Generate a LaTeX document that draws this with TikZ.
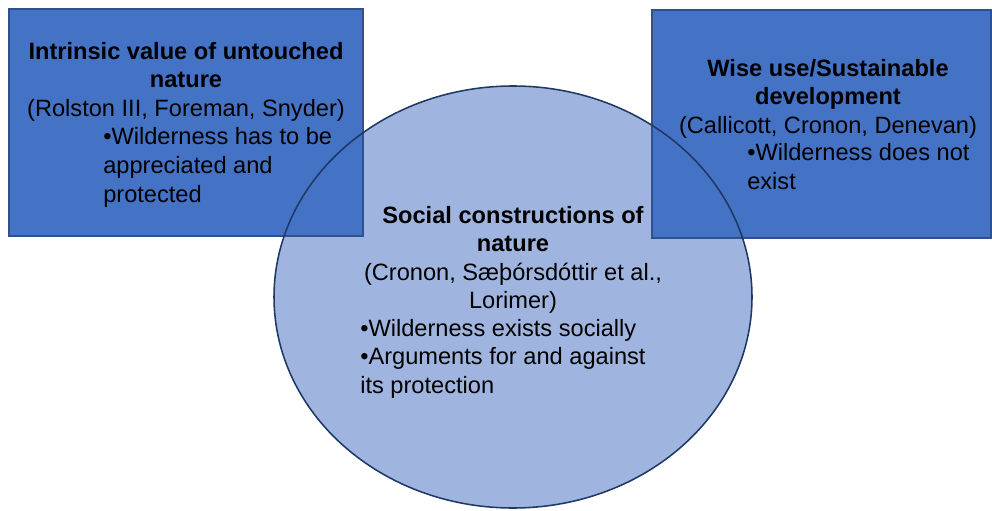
\documentclass[tikz,border=0pt]{standalone}
\usepackage{fontspec}
\setmainfont{Liberation Sans}
\usepackage{xcolor}
\usepackage{tikz}
\usetikzlibrary{shapes,positioning}
\definecolor{boxblue}{HTML}{4472C4}
\definecolor{boxedge}{HTML}{2F528F}
\definecolor{circblue}{HTML}{9FB5DF}
\definecolor{circedge}{HTML}{1F3864}
\tikzstyle{viewbox}  =[rectangle, draw=boxedge, fill=boxblue, line width=0.8pt,
                        inner sep=0pt]
\tikzstyle{viewcirc} =[ellipse, fill=circblue, inner sep=0pt,
                        minimum width=11.95cm, minimum height=10.55cm]
\tikzstyle{heading}  =[align=center, inner sep=0pt, anchor=north,
                        font=\fontsize{16.8}{20.3}\selectfont]
\tikzstyle{bullets}  =[align=left, inner sep=0pt, anchor=north west,
                        font=\fontsize{16.8}{20.3}\selectfont]

\begin{document}
\begin{tikzpicture}

  \useasboundingbox (0,0) rectangle (24.8,12.75);

  % ── shapes ──────────────────────────────────────────────────────────────────
  \node[viewcirc] (social) at (12.825, 5.325) {};
  \node[viewbox, minimum width=8.85cm,  minimum height=5.675cm] (intrinsic) at (4.65,    9.6875) {};
  \node[viewbox, minimum width=8.475cm, minimum height=5.7cm]   (wiseuse)   at (20.5375, 9.65)   {};
  \draw[circedge, line width=1.1pt] (social.center) ellipse [x radius=5.975, y radius=5.275];

  % ── texts ───────────────────────────────────────────────────────────────────
  \node[heading] (intrinsicT) at (4.65, 11.7)
    {{\bfseries Intrinsic value of untouched}\\{\bfseries nature}\\(Rolston III, Foreman, Snyder)};
  \node[bullets] (intrinsicB) at (2.575, 9.56)
    {•Wilderness has to be\\appreciated and\\protected};

  \node[heading] (wiseuseT) at (20.7, 11.28)
    {{\bfseries Wise use/Sustainable}\\{\bfseries development}\\(Callicott, Cronon, Denevan)};
  \node[bullets] (wiseuseB) at (18.675, 9.16)
    {•Wilderness does not\\exist};

  \node[heading] (socialT) at (12.825, 7.6075)
    {{\bfseries Social constructions of}\\{\bfseries nature}\\(Cronon, Sæþórsdóttir et al.,\\Lorimer)};
  \node[bullets] (socialB) at (9.0, 4.7825)
    {•Wilderness exists socially\\•Arguments for and against\\its protection};

\end{tikzpicture}
\end{document}
